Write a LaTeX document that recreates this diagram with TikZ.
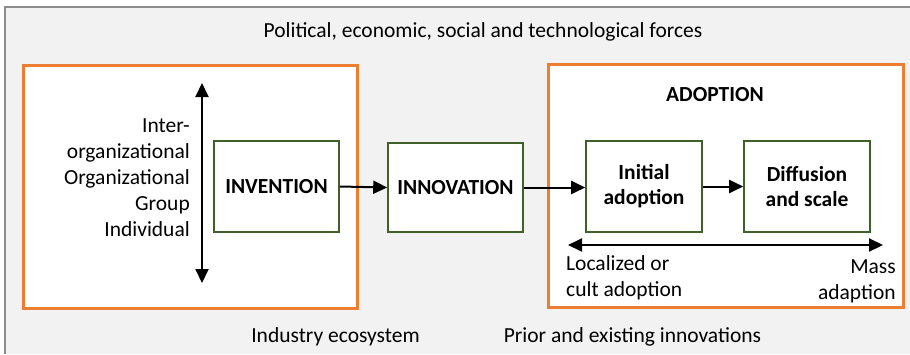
\documentclass[tikz,border=0pt]{standalone}
\usepackage{fontspec}
\setmainfont{Carlito}
\usetikzlibrary{arrows.meta}
\definecolor{bgray}{HTML}{F2F2F2}
\definecolor{framegray}{HTML}{8C8C8C}
\definecolor{orng}{HTML}{ED7D31}
\definecolor{grn}{HTML}{3F6128}
\tikzset{
  zone/.style={draw=orng, line width=3pt, fill=white},
  stagebox/.style={draw=grn, line width=1.6pt, fill=white, inner sep=0pt, font=\fontsize{21.5}{25}\selectfont\bfseries, align=center},
  lbl/.style={inner sep=0pt, align=center},
  conn/.style={line width=2pt, -{Triangle[length=14pt,width=13pt]}},
  dconn/.style={line width=2pt, {Triangle[length=14pt,width=13pt]}-{Triangle[length=14pt,width=13pt]}}
}
\begin{document}
\begin{tikzpicture}[x=1pt,y=-1pt,font=\fontsize{21.5}{26}\selectfont]
\useasboundingbox (0,0) rectangle (910,354);
\fill[white] (0,0) rectangle (910,354);
\fill[bgray] (5,7) rectangle (910,354);
\draw[framegray, line width=2pt] (5,354) -- (5,7) -- (910,7);
% zones
\draw[zone] (23,65) rectangle (357,308);
\draw[zone] (548,64) rectangle (903,307);
% texts
\node[lbl] (forces) at (483,31.5) {Political, economic, social and technological forces};
\node[lbl] (eco) at (335.5,337) {Industry ecosystem};
\node[lbl] (prior) at (632.5,337) {Prior and existing innovations};
\node[lbl, font=\fontsize{21.5}{26}\selectfont\bfseries] (adoption) at (715,95) {ADOPTION};
\node[lbl, align=right, anchor=east] (levels) at (190,177.5) {Inter-\\organizational\\Organizational\\Group\\Individual};
\node[lbl, align=left, anchor=west] (local) at (566,277.5) {Localized or\\cult adoption};
\node[lbl, align=right, anchor=east] (mass) at (896,281.5) {Mass\\adaption};
% stage boxes
\node[stagebox, minimum width=125pt, minimum height=91pt] (inv) at (276.5,186.5) {INVENTION};
\node[stagebox, minimum width=135pt, minimum height=89pt] (inno) at (455.5,187.5) {INNOVATION};
\node[stagebox, minimum width=116pt, minimum height=91pt] (init) at (644,186.5) {Initial\\adoption};
\node[stagebox, minimum width=126pt, minimum height=91pt] (diff) at (807,186.5) {Diffusion\\and scale};
% connectors
\draw[conn] (inv.east) -- (inno.west);
\draw[conn] (inno.east) -- (init.west |- inno.east);
\draw[conn] (init.east) -- (diff.west);
% scale arrows
\coordinate (vtop) at (202,83);
\coordinate (vbot) at (202,283);
\draw[dconn] (vtop) -- (vbot);
\coordinate (hleft) at (568,245);
\coordinate (hright) at (883,245);
\draw[dconn] (hleft) -- (hright);
\end{tikzpicture}
\end{document}
